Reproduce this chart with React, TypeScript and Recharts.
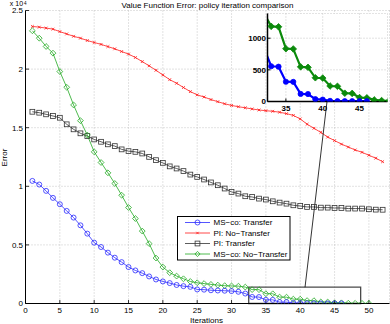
import React from 'react';
import { LineChart, Line, XAxis, YAxis, CartesianGrid, ReferenceArea, ReferenceLine } from 'recharts';

// ---------- data (values in raw units; axis shows x 10^4) ----------
const ITERATIONS = [1, 2, 3, 4, 5, 6, 7, 8, 9, 10, 11, 12, 13, 14, 15, 16, 17, 18, 19, 20, 21, 22, 23, 24, 25, 26,
  27, 28, 29, 30, 31, 32, 33, 34, 35, 36, 37, 38, 39, 40, 41, 42, 43, 44, 45, 46, 47, 48, 49, 50, 51, 52];

const MS_CO_TRANSFER = [10460, 10150, 9610, 9010, 8470, 7900, 7330, 6670, 5960, 5190, 4820, 4340, 3910, 3530, 3110,
  2820, 2590, 2310, 2050, 1880, 1740, 1580, 1480, 1420, 1200, 1180, 1130, 1110, 1090, 1060, 1000, 850, 557, 550, 312,
  310, 120, 118, 37, 30, 10, 6, 5, 5, 5, 5];

const PI_NO_TRANSFER = [23640, 23580, 23500, 23410, 23200, 23000, 22800, 22640, 22440, 22270, 22110, 21920, 21730,
  21500, 21280, 20990, 20640, 20280, 19900, 19500, 19100, 18790, 18430, 18080, 17800, 17620, 17400, 17220, 17040,
  16900, 16790, 16700, 16600, 16510, 16450, 16400, 16320, 16200, 16050, 15750, 15300, 14950, 14600, 14200, 13900,
  13600, 13350, 13100, 12900, 12650, 12400, 12100];

const PI_TRANSFER = [16360, 16280, 16140, 16000, 15850, 15290, 14860, 14520, 14290, 14000, 13800, 13580, 13430, 13150,
  13000, 12940, 12800, 12510, 12230, 12000, 11700, 11520, 11300, 11000, 10800, 10580, 10330, 10090, 9810, 9520, 9380,
  9150, 9090, 8950, 8870, 8720, 8610, 8520, 8380, 8320, 8240, 8240, 8180, 8180, 8150, 8150, 8100, 8100, 8100, 8040,
  8010, 8000];

const MS_CO_NO_TRANSFER = [23270, 22640, 21930, 21360, 19790, 18450, 16940, 15600, 14370, 12940, 12030, 11150, 10240,
  9240, 8190, 7250, 6180, 5110, 3880, 3110, 2630, 2340, 2110, 1880, 1770, 1700, 1630, 1570, 1520, 1500, 1480, 1400,
  1187, 1180, 834, 830, 547, 540, 375, 370, 245, 240, 131, 128, 62, 58, 25, 15, 10, 8];

const SERIES_NAMES = ['MS\u2212co: Transfer', 'PI: No\u2212Transfer', 'PI: Transfer', 'MS\u2212co: No\u2212Transfer'];

const MAIN_X_DOMAIN = [0, 53];
const MAIN_Y_DOMAIN = [0, 25000];
const MAIN_X_TICKS = [0, 5, 10, 15, 20, 25, 30, 35, 40, 45, 50];
const MAIN_Y_TICKS = [0, 5000, 10000, 15000, 20000, 25000];

const INSET_X_DOMAIN = [32.5, 48.8];
const INSET_Y_DOMAIN = [0, 1390];
const INSET_X_TICKS = [35, 40, 45];
const INSET_Y_TICKS = [0, 500, 1000];

// connector from zoom box to inset (data coords of main axes)
const CONNECTOR = [{ x: 40.7, y: 1390 }, { x: 43.9, y: 17235 }];

const rows = ITERATIONS.map((it, i) => ({
  iter: it,
  msT: MS_CO_TRANSFER[i] ?? null,
  piN: PI_NO_TRANSFER[i] ?? null,
  piT: PI_TRANSFER[i] ?? null,
  msN: MS_CO_NO_TRANSFER[i] ?? null,
}));

// ---------- styling ----------
const FONT = '"Liberation Sans", Arial, Helvetica, sans-serif';
const C_BLUE = '#2a2aff';
const C_RED = '#ff1a1a';
const C_BLACK = '#333333';
const C_GREEN = '#22aa22';
const C_IN_BLUE = '#0000ff';
const C_IN_GREEN = '#0b8a0b';
const GRID = '#b8b8b8';

type Shape = 'circle' | 'x' | 'square' | 'diamond';

function marker(shape: Shape, cx: number, cy: number, s: number, stroke: string, fill: string, sw: number, key?: string) {
  if (shape === 'circle') return <circle key={key} cx={cx} cy={cy} r={s} stroke={stroke} fill={fill} strokeWidth={sw} />;
  if (shape === 'square')
    return <rect key={key} x={cx - s} y={cy - s} width={2 * s} height={2 * s} stroke={stroke} fill={fill} strokeWidth={sw} />;
  if (shape === 'diamond')
    return (
      <path key={key} d={`M${cx},${cy - s}L${cx + s},${cy}L${cx},${cy + s}L${cx - s},${cy}Z`} stroke={stroke} fill={fill} strokeWidth={sw} />
    );
  return (
    <path key={key} d={`M${cx - s},${cy - s}L${cx + s},${cy + s}M${cx - s},${cy + s}L${cx + s},${cy - s}`} stroke={stroke} fill="none" strokeWidth={sw} />
  );
}

const makeDot = (shape: Shape, s: number, stroke: string, fill: string, sw: number) => (p: any) => {
  const k = `${shape}-${stroke}-${p.index}`;
  if (p.cx == null || p.cy == null || p.value == null || Number.isNaN(p.cy)) return <g key={k} />;
  return marker(shape, p.cx, p.cy, s, stroke, fill, sw, k);
};

const mainTick = { fontSize: 8, fill: '#000', fontFamily: FONT };
const insetTick = { fontSize: 8, fill: '#000', fontFamily: FONT, fontWeight: 'bold' as const };

const fmtMain = (v: number) => String(v / 10000);

export default function App() {
  return (
    <div style={{ position: 'absolute', left: 0, top: 0, width: 390, height: 324, background: '#fff' }}>
      {/* main chart */}
      <div style={{ position: 'absolute', left: 0, top: 0 }}>
        <LineChart width={390} height={324} data={rows} margin={{ top: 10.5, right: 0.5, bottom: 0, left: 0.5 }}>
          <CartesianGrid xAxisId="b" yAxisId="l" stroke={GRID} strokeDasharray="1 2" strokeWidth={0.8} />
          <XAxis
            xAxisId="b"
            dataKey="iter"
            type="number"
            domain={MAIN_X_DOMAIN}
            ticks={MAIN_X_TICKS}
            interval={0}
            allowDataOverflow
            height={20.5}
            tickSize={-3.5}
            tickMargin={7}
            axisLine={{ stroke: '#000', strokeWidth: 1 }}
            tickLine={{ stroke: '#000', strokeWidth: 0.8 }}
            tick={mainTick}
          />
          <XAxis
            xAxisId="t"
            orientation="top"
            dataKey="iter"
            type="number"
            domain={MAIN_X_DOMAIN}
            ticks={MAIN_X_TICKS}
            interval={0}
            allowDataOverflow
            height={0}
            tickSize={-3.5}
            tick={false}
            axisLine={{ stroke: '#000', strokeWidth: 1 }}
            tickLine={{ stroke: '#000', strokeWidth: 0.8 }}
          />
          <YAxis
            yAxisId="l"
            type="number"
            domain={MAIN_Y_DOMAIN}
            ticks={MAIN_Y_TICKS}
            interval={0}
            allowDataOverflow
            width={25}
            tickSize={-3.5}
            tickMargin={6}
            tickFormatter={fmtMain}
            axisLine={{ stroke: '#000', strokeWidth: 1 }}
            tickLine={{ stroke: '#000', strokeWidth: 0.8 }}
            tick={mainTick}
          />
          <YAxis
            yAxisId="r"
            orientation="right"
            type="number"
            domain={MAIN_Y_DOMAIN}
            ticks={MAIN_Y_TICKS}
            interval={0}
            allowDataOverflow
            width={0}
            tickSize={-3.5}
            tick={false}
            axisLine={{ stroke: '#000', strokeWidth: 1 }}
            tickLine={{ stroke: '#000', strokeWidth: 0.8 }}
          />
          <Line xAxisId="b" yAxisId="l" dataKey="piT" stroke={C_BLACK} strokeWidth={0.8} isAnimationActive={false}
            dot={makeDot('square', 2.4, C_BLACK, 'none', 0.8)} activeDot={false} />
          <Line xAxisId="b" yAxisId="l" dataKey="piN" stroke={C_RED} strokeWidth={0.8} isAnimationActive={false}
            dot={makeDot('x', 1.4, C_RED, 'none', 0.8)} activeDot={false} />
          <Line xAxisId="b" yAxisId="l" dataKey="msN" stroke={C_GREEN} strokeWidth={0.8} isAnimationActive={false}
            dot={makeDot('diamond', 2.9, C_GREEN, 'none', 0.8)} activeDot={false} />
          <Line xAxisId="b" yAxisId="l" dataKey="msT" stroke={C_BLUE} strokeWidth={0.8} isAnimationActive={false}
            dot={makeDot('circle', 2.5, C_BLUE, 'none', 0.8)} activeDot={false} />
          <ReferenceArea xAxisId="b" yAxisId="l" x1={INSET_X_DOMAIN[0]} x2={INSET_X_DOMAIN[1]} y1={INSET_Y_DOMAIN[0]}
            y2={INSET_Y_DOMAIN[1]} fill="none" fillOpacity={0} stroke="#4a4a4a" strokeWidth={1.3} ifOverflow="visible" />
          <ReferenceLine xAxisId="b" yAxisId="l" segment={CONNECTOR} stroke="#000" strokeWidth={0.8} ifOverflow="visible" />
        </LineChart>
      </div>

      {/* inset chart */}
      <div style={{ position: 'absolute', left: 240, top: 5 }}>
        <LineChart width={150} height={115} data={rows} margin={{ top: 8.5, right: 2.5, bottom: 0, left: 0 }}>
          <CartesianGrid xAxisId="b" yAxisId="l" fill="#fff" stroke={GRID} strokeDasharray="1 2" strokeWidth={0.8} />
          <XAxis
            xAxisId="b"
            dataKey="iter"
            type="number"
            domain={INSET_X_DOMAIN}
            ticks={INSET_X_TICKS}
            interval={0}
            allowDataOverflow
            height={18.5}
            tickSize={-3}
            tickMargin={6.5}
            axisLine={{ stroke: '#000', strokeWidth: 1.5 }}
            tickLine={{ stroke: '#000', strokeWidth: 1 }}
            tick={insetTick}
          />
          <XAxis
            xAxisId="t"
            orientation="top"
            dataKey="iter"
            type="number"
            domain={INSET_X_DOMAIN}
            ticks={INSET_X_TICKS}
            interval={0}
            allowDataOverflow
            height={0}
            tickSize={-3}
            tick={false}
            axisLine={{ stroke: '#000', strokeWidth: 1.5 }}
            tickLine={{ stroke: '#000', strokeWidth: 1 }}
          />
          <YAxis
            yAxisId="l"
            type="number"
            domain={INSET_Y_DOMAIN}
            ticks={INSET_Y_TICKS}
            interval={0}
            allowDataOverflow
            width={27.5}
            tickSize={-3}
            tickMargin={4.5}
            axisLine={{ stroke: '#000', strokeWidth: 1.5 }}
            tickLine={{ stroke: '#000', strokeWidth: 1 }}
            tick={insetTick}
          />
          <YAxis
            yAxisId="r"
            orientation="right"
            type="number"
            domain={INSET_Y_DOMAIN}
            ticks={INSET_Y_TICKS}
            interval={0}
            allowDataOverflow
            width={0}
            tickSize={-3}
            tick={false}
            axisLine={{ stroke: '#000', strokeWidth: 1.5 }}
            tickLine={{ stroke: '#000', strokeWidth: 1 }}
          />
          <Line xAxisId="b" yAxisId="l" dataKey="msN" stroke={C_IN_GREEN} strokeWidth={2.2} isAnimationActive={false}
            dot={makeDot('diamond', 3.3, C_IN_GREEN, C_IN_GREEN, 0.8)} activeDot={false} />
          <Line xAxisId="b" yAxisId="l" dataKey="msT" stroke={C_IN_BLUE} strokeWidth={2.2} isAnimationActive={false}
            dot={makeDot('circle', 2.6, C_IN_BLUE, C_IN_BLUE, 0.8)} activeDot={false} />
        </LineChart>
      </div>

      {/* texts and legend */}
      <svg width={390} height={324} style={{ position: 'absolute', left: 0, top: 0, pointerEvents: 'none' }}>
        <text x={207.5} y={8.3} textAnchor="middle" fontFamily={FONT} fontSize={8} fill="#000">
          Value Function Error: policy iteration comparison
        </text>
        <text x={9.8} y={5.6} fontFamily={FONT} fontSize={7} fill="#000">x 10</text>
        <text x={23.9} y={4.6} fontFamily={FONT} fontSize={4.6} fill="#000">4</text>
        <text x={206.5} y={322.5} textAnchor="middle" fontFamily={FONT} fontSize={8} fill="#000">Iterations</text>
        <text transform="translate(6.8,157.5) rotate(-90)" textAnchor="middle" fontFamily={FONT} fontSize={8} fill="#000">
          Error
        </text>
        <g>
          <rect x={177.5} y={216.5} width={112.5} height={43.5} fill="#fff" stroke="#000" strokeWidth={1} />
          {SERIES_NAMES.map((name, i) => {
            const cy = 222.5 + i * 10.5;
            const spec: [Shape, number, string][] = [
              ['circle', 2.5, C_BLUE],
              ['x', 1.2, C_RED],
              ['square', 2.4, C_BLACK],
              ['diamond', 2.6, C_GREEN],
            ];
            const [shape, s, col] = spec[i];
            return (
              <g key={name}>
                <line x1={185} x2={210} y1={cy} y2={cy} stroke={col} strokeWidth={0.8} />
                {marker(shape, 197.5, cy, s, col, 'none', 0.8)}
                <text x={213.5} y={cy + 2.9} fontFamily={FONT} fontSize={8} fill="#000">{name}</text>
              </g>
            );
          })}
        </g>
      </svg>
    </div>
  );
}
